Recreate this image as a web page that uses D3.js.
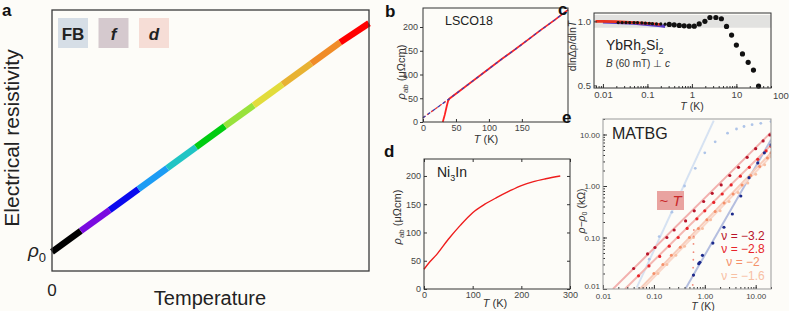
<!DOCTYPE html>
<html><head><meta charset="utf-8">
<script src="https://cdn.jsdelivr.net/npm/d3@7"></script>
<style>
body{margin:0;background:#fdfcf8;}
svg{display:block;font-family:"Liberation Sans",Arial,sans-serif;}
</style></head><body>
<svg id="fig" width="789" height="311"></svg>
<script>
// ---------------- DATA ----------------
// Panel a
const aTemp = [0,1,2,3,4,5,6,7,8,9,10,11];
const aRho  = [1.0,2.1,3.2,4.3,5.4,6.5,7.6,8.7,9.8,10.9,12.0,13.0];
const aColors = ["#000000","#7a0ae0","#0a0aee","#1c9cf4","#20c4c4","#00cc10","#98e23c","#e2dc3c","#e8b232","#f08c28","#ff0000"];
const aLegend = ["FB","f","d"];
const aLegendFill = ["#d6dee6","#d5c9ce","#f6ddd6"];

// Panel b (LSCO18)
const bFitT = [0,20,40,60,80,100,120,140,160,180,200,220];
const bFitR = [9,29,49,70,91,112,133,153,174,195,215,236];
const bDataT = [30,33,36,38,40,60,80,100,120,140,160,180,200,220];
const bDataR = [0,15,33,44,49,70,91,112,133,153,174,195,215,236];
const bTicksX = [0,50,100,150];
const bTicksY = [0,50,100,150,200];

// Panel c (YbRh2Si2)
const cT = [0.022,0.027,0.033,0.04,0.05,0.06,0.075,0.09,0.11,0.13,0.16,0.2,0.25,0.31,0.4,0.52,0.67,0.87,1.13,1.46,1.96,2.54,3.46,4.6,6.0,7.8,10.0,13.7,18.4,24.2,31.5];
const cR = [0.99,0.99,0.99,0.99,0.99,0.99,0.988,0.986,0.985,0.982,0.98,0.98,0.978,0.976,0.973,0.968,0.965,0.962,0.962,0.98,1.0,1.03,1.03,1.02,0.96,0.893,0.815,0.746,0.68,0.62,0.495];
const cRedT = [0.0068,0.01,0.02,0.05,0.1,0.2];
const cRedR = [1.0,1.0,0.998,0.99,0.985,0.975];
const cBlueT = [0.01,0.02,0.05,0.1,0.2,0.25];
const cBlueR = [0.995,0.99,0.985,0.975,0.965,0.96];
const cTicksX = [0.01,0.1,1,10,100];
const cTicksY = [0.5,1.0];

// Panel d (Ni3In)
const dT = [0,10,25,50,75,100,125,150,175,200,225,250,280];
const dR = [35,46,60,88,113,135,150,162,173,183,190,195,200];
const dTicksX = [0,100,200,300];
const dTicksY = [0,50,100,150,200];

// Panel e (MATBG)
const eLabels = ["\u03bd = \u22123.2","\u03bd = \u22122.8","\u03bd = \u22122","\u03bd = \u22121.6"];
const eColors = ["#b8142a","#e8242a","#f4906a","#f8c0a4"];
const eDarkRedT = [0.04,0.075,0.105,0.18,0.25,0.42,0.62,0.95,1.4,2.1,3.1,4.6,6.8,10,14,19];
const eDarkRedR = [0.025,0.048,0.064,0.10,0.14,0.21,0.33,0.5,0.72,1.05,1.6,2.3,3.6,5.3,7.5,9.8];
const eRedT = [0.05,0.08,0.13,0.2,0.3,0.45,0.7,1.0,1.5,2.2,3.3,5,7.5,11,16,20];
const eRedR = [0.018,0.028,0.043,0.068,0.1,0.15,0.23,0.33,0.48,0.7,1.05,1.55,2.3,3.3,4.8,5.9];
const eSalmonT = [0.1,0.15,0.22,0.33,0.5,0.75,1.1,1.6,2.4,3.6,5.4,8,12,17,20];
const eSalmonR = [0.02,0.03,0.045,0.065,0.1,0.15,0.22,0.32,0.47,0.7,1.05,1.6,2.4,3.5,4.4];
const eLightT = [0.12,0.18,0.27,0.4,0.6,0.9,1.3,2,3,4.5,7,10,15,20];
const eLightR = [0.02,0.03,0.045,0.068,0.1,0.15,0.22,0.33,0.5,0.75,1.15,1.7,2.6,3.8];
const eDropT = [0.58,0.585,0.59,0.595,0.6,0.6,0.605,0.61];
const eDropR = [0.012,0.018,0.026,0.037,0.052,0.075,0.105,0.14];
const eNavyT = [0.6,0.76,0.8,0.9,1.44,2.38,3.48,5.1,7.4,11,14.8,20];
const eNavyR = [0.0186,0.031,0.033,0.045,0.078,0.158,0.286,0.64,1.45,2.8,4.4,6.3];
const eSkyT = [0.081,0.127,0.226,0.40,0.65,1.0,1.6,2.8,4.2,5.9,8.5,12.6,20];
const eSkyR = [0.038,0.104,0.31,1.0,2.2,4.4,7.2,10.6,12.8,14.3,15.5,16.5,17.8];
const eFitDarkRedT=[0.0157,20], eFitDarkRedR=[0.01,11];
const eFitRedT=[0.027,20], eFitRedR=[0.01,6.2];
const eFitSalmonT=[0.053,20], eFitSalmonR=[0.01,4.4];
const eFitLightT=[0.06,20], eFitLightR=[0.01,3.8];
const eFitNavyT=[0.415,20], eFitNavyR=[0.01,7.9];
const eFitSkyT=[0.046,1.5], eFitSkyR=[0.0106,18.6];
const eTicks = [0.01,0.1,1,10];
const eTickLabels = ["0.01","0.10","1.00","10.00"];

// ---------------- DRAW ----------------
const svg = d3.select("#fig");
svg.append("rect").attr("width",789).attr("height",311).attr("fill","#fdfcf8");

function frame(x0,y0,x1,y1,stroke,w){
  svg.append("rect").attr("x",x0).attr("y",y0).attr("width",x1-x0).attr("height",y1-y0)
    .attr("fill","none").attr("stroke",stroke||"#333").attr("stroke-width",w||1);
}
function panelLetter(t,x,y){
  svg.append("text").attr("x",x).attr("y",y).attr("font-size",17).attr("font-weight","bold").attr("fill","#111").text(t);
}
function styleAxis(g,fs){
  g.select(".domain").remove();
  g.selectAll("line").attr("stroke","#333");
  g.selectAll("text").attr("font-size",fs||9).attr("fill","#444").attr("font-family",'"Liberation Sans",Arial,sans-serif');
}

// ===== Panel a =====
{
  const x = d3.scaleLinear().domain([0,11]).range([52,369]);
  const y = d3.scaleLinear().domain([0,13.7]).range([271,10]);
  for(let i=0;i<aColors.length;i++){
    svg.append("line").attr("x1",x(aTemp[i])).attr("y1",y(aRho[i]))
      .attr("x2",x(aTemp[i+1])).attr("y2",y(aRho[i+1]))
      .attr("stroke",aColors[i]).attr("stroke-width",6.5);
  }
  frame(52,10,369,271,"#3a3a3a",1.3);
  const lx = d3.scaleBand().domain(aLegend).range([58,169]).paddingInner(0.259).paddingOuter(0);
  aLegend.forEach((t,i)=>{
    svg.append("rect").attr("x",lx(t)).attr("y",18).attr("width",lx.bandwidth()).attr("height",30).attr("fill",aLegendFill[i]);
    svg.append("text").attr("x",lx(t)+lx.bandwidth()/2).attr("y",40).attr("text-anchor","middle")
      .attr("font-size",17).attr("font-weight","bold").attr("fill","#222")
      .attr("font-style",i>0?"italic":"normal").text(t);
  });
  panelLetter("a",2,16);
  svg.append("text").attr("transform","translate(19,138) rotate(-90)").attr("text-anchor","middle")
    .attr("font-size",21).attr("fill","#222").text("Electrical resistivity");
  svg.append("text").attr("x",210).attr("y",305).attr("text-anchor","middle").attr("font-size",20).attr("fill","#222").text("Temperature");
  svg.append("text").attr("x",52).attr("y",296).attr("text-anchor","middle").attr("font-size",17).attr("fill","#222").text("0");
  const r = svg.append("text").attr("x",46).attr("y",y(aRho[0])+5).attr("text-anchor","end").attr("font-size",19).attr("fill","#222");
  r.append("tspan").attr("font-style","italic").text("\u03c1");
  r.append("tspan").attr("font-size",13).attr("dy",5).text("0");
}

// ===== Panel b =====
{
  const x = d3.scaleLinear().domain([0,220]).range([423,568]);
  const y = d3.scaleLinear().domain([0,240]).range([122,8]);
  const line = d3.line().x(d=>x(d[0])).y(d=>y(d[1]));
  const low = bFitT.map((t,i)=>[t,bFitR[i]]).filter(d=>d[0]<=40);
  svg.append("path").attr("d",line(low)).attr("fill","none").attr("stroke","#e33").attr("stroke-width",1.3).attr("stroke-dasharray","3,2");
  svg.append("path").attr("d",line(bDataT.map((t,i)=>[t,bDataR[i]]))).attr("fill","none").attr("stroke","#f22").attr("stroke-width",1.8);
  svg.append("path").attr("d",line(bFitT.map((t,i)=>[t,bFitR[i]]))).attr("fill","none").attr("stroke","#3344bb").attr("stroke-width",1.2).attr("stroke-dasharray","3,3");
  const gx = svg.append("g").attr("transform","translate(0,122)").call(d3.axisBottom(x).tickValues(bTicksX).tickSize(-3).tickPadding(3));
  styleAxis(gx,9);
  const gy = svg.append("g").attr("transform","translate(423,0)").call(d3.axisLeft(y).tickValues(bTicksY).tickSize(3).tickPadding(2));
  styleAxis(gy,9);
  frame(423,8,568,122,"#333",1);
  panelLetter("b",385,17);
  svg.append("text").attr("x",445).attr("y",25).attr("font-size",12.5).attr("fill","#222").text("LSCO18");
  const yl = svg.append("text").attr("transform","translate(405,72) rotate(-90)").attr("text-anchor","middle").attr("font-size",11).attr("fill","#333");
  yl.append("tspan").attr("font-style","italic").text("\u03c1");
  yl.append("tspan").attr("font-size",8).attr("dy",3).text("ab");
  yl.append("tspan").attr("dy",-3).text(" (\u03bc\u03a9cm)");
  const xl = svg.append("text").attr("x",486).attr("y",143).attr("text-anchor","middle").attr("font-size",11).attr("fill","#333");
  xl.append("tspan").attr("font-style","italic").text("T");
  xl.append("tspan").text(" (K)");
}

// ===== Panel c =====
{
  const x = d3.scaleLog().domain([0.0063,60]).range([594,771]);
  const y = d3.scaleLinear().domain([0.48,1.065]).range([88,13]);
  svg.append("rect").attr("x",594).attr("y",y(1.05)).attr("width",771-594).attr("height",y(0.95)-y(1.05)).attr("fill","#e2e2e0");
  const line = d3.line().x(d=>x(d[0])).y(d=>y(d[1]));
  svg.append("path").attr("d",line(cBlueT.map((t,i)=>[t,cBlueR[i]]))).attr("fill","none").attr("stroke","#5a3cc8").attr("stroke-width",3);
  svg.append("path").attr("d",line(cRedT.map((t,i)=>[t,cRedR[i]]))).attr("fill","none").attr("stroke","#e8321e").attr("stroke-width",2.6);
  svg.selectAll(".cdot").data(cT.map((t,i)=>[t,cR[i]])).enter().append("circle")
    .attr("cx",d=>x(d[0])).attr("cy",d=>y(d[1])).attr("r",d=>d[0]<0.3?1.6:2.6).attr("fill","#111");
  const minors=[]; for(let e=-3;e<2;e++) for(let k=1;k<10;k++){const v=k*Math.pow(10,e); if(v>=0.0063&&v<=60) minors.push(v);}
  const gx = svg.append("g").attr("transform","translate(0,88)").call(d3.axisBottom(x).tickValues(minors).tickSize(-2).tickFormat(""));
  styleAxis(gx);
  const gx2 = svg.append("g").attr("transform","translate(0,88)").call(d3.axisBottom(x).tickValues(cTicksX.filter(v=>v<=60)).tickSize(-4).tickFormat(d3.format("~g")).tickPadding(3));
  styleAxis(gx2,9.5);
  svg.append("text").attr("x",x(100)).attr("y",99).attr("text-anchor","middle").attr("font-size",9.5).attr("fill","#444").text("100");
  const gy = svg.append("g").attr("transform","translate(594,0)").call(d3.axisLeft(y).tickValues(cTicksY).tickSize(-3).tickFormat(d3.format(".1f")).tickPadding(3));
  styleAxis(gy,9.5);
  frame(594,13,771,88,"#333",1);
  panelLetter("c",558,15);
  const t1 = svg.append("text").attr("x",606).attr("y",50).attr("font-size",14).attr("fill","#222");
  t1.append("tspan").text("YbRh"); t1.append("tspan").attr("font-size",9).attr("dy",4).text("2");
  t1.append("tspan").attr("dy",-4).text("Si"); t1.append("tspan").attr("font-size",9).attr("dy",4).text("2");
  const t2 = svg.append("text").attr("x",606).attr("y",67).attr("font-size",10).attr("fill","#333");
  t2.append("tspan").attr("font-style","italic").text("B");
  t2.append("tspan").text(" (60 mT) \u22a5 ");
  t2.append("tspan").attr("font-style","italic").text("c");
  const yl = svg.append("text").attr("transform","translate(576,46) rotate(-90)").attr("text-anchor","middle").attr("font-size",10.5).attr("fill","#333");
  yl.append("tspan").text("dln\u0394\u03c1/dln");
  yl.append("tspan").attr("font-style","italic").text("T");
  const xl = svg.append("text").attr("x",692).attr("y",110).attr("text-anchor","middle").attr("font-size",10.5).attr("fill","#333");
  xl.append("tspan").attr("font-style","italic").text("T");
  xl.append("tspan").text(" (K)");
}

// ===== Panel d =====
{
  const x = d3.scaleLinear().domain([0,300]).range([424,570]);
  const y = d3.scaleLinear().domain([0,230]).range([289,159]);
  const line = d3.line().curve(d3.curveMonotoneX).x(d=>x(d[0])).y(d=>y(d[1]));
  svg.append("path").attr("d",line(dT.map((t,i)=>[t,dR[i]]))).attr("fill","none").attr("stroke","#ee1c1c").attr("stroke-width",1.4);
  const gx = svg.append("g").attr("transform","translate(0,289)").call(d3.axisBottom(x).tickValues(dTicksX).tickSize(-3).tickPadding(3));
  styleAxis(gx,9);
  const gxt = svg.append("g").attr("transform","translate(0,159)").call(d3.axisTop(x).tickValues(dTicksX).tickSize(-3).tickFormat(""));
  styleAxis(gxt);
  const gy = svg.append("g").attr("transform","translate(424,0)").call(d3.axisLeft(y).tickValues(dTicksY).tickSize(-3).tickPadding(3));
  styleAxis(gy,9);
  const gyr = svg.append("g").attr("transform","translate(570,0)").call(d3.axisRight(y).tickValues(dTicksY).tickSize(-3).tickFormat(""));
  styleAxis(gyr);
  frame(424,159,570,289,"#333",1);
  panelLetter("d",384,157);
  const t1 = svg.append("text").attr("x",437).attr("y",177).attr("font-size",14).attr("fill","#222");
  t1.append("tspan").text("Ni"); t1.append("tspan").attr("font-size",9).attr("dy",4).text("3");
  t1.append("tspan").attr("dy",-4).text("In");
  const yl = svg.append("text").attr("transform","translate(401,217) rotate(-90)").attr("text-anchor","middle").attr("font-size",11).attr("fill","#333");
  yl.append("tspan").attr("font-style","italic").text("\u03c1");
  yl.append("tspan").attr("font-size",8).attr("dy",3).text("ab");
  yl.append("tspan").attr("dy",-3).text(" (\u03bc\u03a9cm)");
  const xl = svg.append("text").attr("x",495).attr("y",307).attr("text-anchor","middle").attr("font-size",11).attr("fill","#333");
  xl.append("tspan").attr("font-style","italic").text("T");
  xl.append("tspan").text(" (K)");
}

// ===== Panel e =====
{
  const x = d3.scaleLog().domain([0.01,20]).range([603,771]);
  const y = d3.scaleLog().domain([0.01,20]).range([289,119]);
  svg.append("clipPath").attr("id","eclip").append("rect").attr("x",603).attr("y",119).attr("width",168).attr("height",170);
  const g = svg.append("g").attr("clip-path","url(#eclip)");
  const line = d3.line().x(d=>x(d[0])).y(d=>y(d[1]));
  const pairs=(a,b)=>a.map((t,i)=>[t,b[i]]);
  const fits = [
    [eFitSkyT,eFitSkyR,"#d6e2f2"],
    [eFitNavyT,eFitNavyR,"#b4bedf"],
    [eFitDarkRedT,eFitDarkRedR,"#f2b0ae"],
    [eFitRedT,eFitRedR,"#f4b8b2"],
    [eFitSalmonT,eFitSalmonR,"#f8ccba"],
    [eFitLightT,eFitLightR,"#fad8ca"]
  ];
  fits.forEach(f=>g.append("path").attr("d",line(pairs(f[0],f[1]))).attr("fill","none").attr("stroke",f[2]).attr("stroke-width",2));
  const dots = [
    [eSkyT,eSkyR,"#aec4e8",1.4],
    [eLightT,eLightR,eColors[3],1.5],
    [eSalmonT,eSalmonR,eColors[2],1.5],
    [eDropT,eDropR,"#f08878",0.9],
    [eRedT,eRedR,eColors[1],1.6],
    [eDarkRedT,eDarkRedR,eColors[0],1.6],
    [eNavyT,eNavyR,"#1c2a8c",1.6]
  ];
  dots.forEach(s=>g.selectAll(null).data(pairs(s[0],s[1])).enter().append("circle")
    .attr("cx",d=>x(d[0])).attr("cy",d=>y(d[1])).attr("r",s[3]).attr("fill",s[2]));
  const minors=[]; for(let e=-2;e<2;e++) for(let k=1;k<10;k++){const v=k*Math.pow(10,e); if(v>=0.01&&v<=20) minors.push(v);}
  const gx = svg.append("g").attr("transform","translate(0,289)").call(d3.axisBottom(x).tickValues(minors).tickSize(-2).tickFormat(""));
  styleAxis(gx);
  const gx2 = svg.append("g").attr("transform","translate(0,289)").call(d3.axisBottom(x).tickValues(eTicks).tickSize(-4).tickFormat((d,i)=>eTickLabels[i]).tickPadding(4));
  styleAxis(gx2,8);
  const gy = svg.append("g").attr("transform","translate(603,0)").call(d3.axisLeft(y).tickValues(minors).tickSize(-2).tickFormat(""));
  styleAxis(gy);
  const gy2 = svg.append("g").attr("transform","translate(603,0)").call(d3.axisLeft(y).tickValues(eTicks).tickSize(-4).tickFormat((d,i)=>eTickLabels[i]).tickPadding(3));
  styleAxis(gy2,8);
  gy2.selectAll("text").filter(d=>d===0.01).attr("dy","-0.05em");
  frame(603,119,771,289,"#999",1);
  panelLetter("e",562,123);
  svg.append("text").attr("x",612).attr("y",139).attr("font-size",16).attr("fill","#222").text("MATBG");
  svg.append("rect").attr("x",657).attr("y",191).attr("width",27).attr("height",19).attr("fill","#e9a3a0");
  const tt = svg.append("text").attr("x",670.5).attr("y",206).attr("text-anchor","middle").attr("font-size",15).attr("fill","#c8282a");
  tt.append("tspan").text("~ "); tt.append("tspan").attr("font-style","italic").text("T");
  eLabels.forEach((t,i)=>{
    svg.append("text").attr("x",743).attr("y",240+i*13.2).attr("text-anchor","middle").attr("font-size",12).attr("fill",eColors[i]).text(t);
  });
  const yl = svg.append("text").attr("transform","translate(585,211) rotate(-90)").attr("text-anchor","middle").attr("font-size",10.5).attr("fill","#333");
  yl.append("tspan").attr("font-style","italic").text("\u03c1\u2212\u03c1");
  yl.append("tspan").attr("font-size",7).attr("dy",2).text("0");
  yl.append("tspan").attr("dy",-2).text(" (k\u03a9)");
  const xl = svg.append("text").attr("x",703).attr("y",310).attr("text-anchor","middle").attr("font-size",10.5).attr("fill","#333");
  xl.append("tspan").attr("font-style","italic").text("T");
  xl.append("tspan").text(" (K)");
}
</script>
</body></html>
